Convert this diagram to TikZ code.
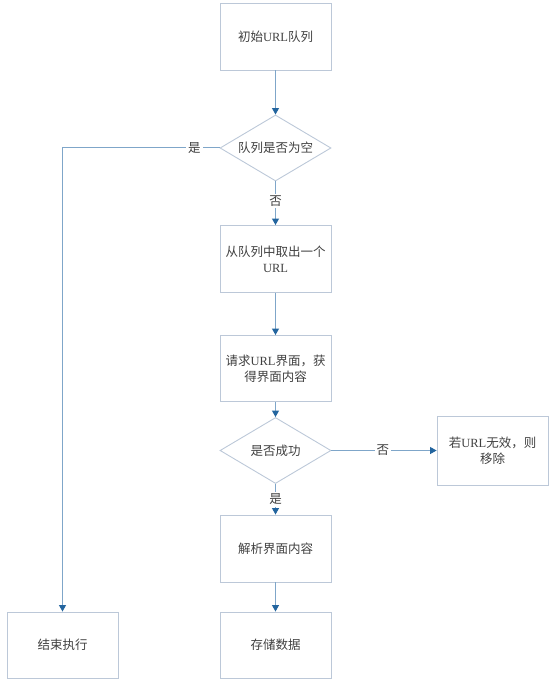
\documentclass[tikz,border=0pt]{standalone}
\usepackage{fontspec}
\setmainfont{Liberation Serif}
\newfontfamily\cjk{Noto Sans CJK SC}
\usetikzlibrary{shapes.geometric,arrows.meta}
\definecolor{boxc}{HTML}{BCC8D8}
\definecolor{linec}{HTML}{7FA6C9}
\definecolor{tipc}{HTML}{23659F}
\definecolor{txtc}{HTML}{404040}
\tikzset{
  stepbox/.style={draw=boxc, line width=0.9pt, minimum width=111pt, minimum height=67pt, inner sep=2pt, align=center, text=txtc, font=\fontsize{12.5}{16}\selectfont},
  decide/.style={diamond, shape aspect=1.68, draw=boxc, line width=0.9pt, minimum width=111pt, minimum height=66pt, inner sep=0pt, text=txtc, font=\fontsize{12.5}{16}\selectfont},
  conn/.style={draw=linec, line width=1pt, -{Triangle[width=7pt,length=6.5pt,color=tipc]}},
  lab/.style={fill=white, inner sep=2pt, text=txtc, font=\fontsize{12.5}{16}\selectfont\cjk}
}
\begin{document}
\begin{tikzpicture}[x=1pt,y=-1pt]
\useasboundingbox (0,0) rectangle (552,684);
\node[stepbox] (init) at (275.5,36.5) {{\cjk 初始}URL{\cjk 队列}};
\node[decide] (empty) at (275.5,148) {\cjk 队列是否为空};
\node[stepbox] (take) at (275.5,259) {{\cjk 从队列中取出一个}\\URL};
\node[stepbox, minimum height=66pt] (req) at (275.5,368.5) {{\cjk 请求}URL{\cjk 界面，获}\\{\cjk 得界面内容}};
\node[decide] (ok) at (275.5,450.5) {\cjk 是否成功};
\node[stepbox, minimum height=69pt] (rm) at (492.5,450.5) {{\cjk 若}URL{\cjk 无效，则}\\{\cjk 移除}};
\node[stepbox] (parse) at (275.5,548.5) {\cjk 解析界面内容};
\node[stepbox, minimum height=66pt] (stop) at (62.5,645) {\cjk 结束执行};
\node[stepbox, minimum height=66pt] (save) at (275.5,645) {\cjk 存储数据};
\draw[conn] (init) -- (empty);
\draw[conn] (empty.west) -- node[lab, pos=0.16] {是} (empty.west -| stop.north) -- (stop.north);
\draw[conn] (empty) -- node[lab, pos=0.45] {否} (take);
\draw[conn] (take) -- (req);
\draw[conn] (req) -- (ok);
\draw[conn] (ok) -- node[lab, pos=0.49] {否} (rm);
\draw[conn] (ok) -- node[lab, pos=0.5] {是} (parse);
\draw[conn] (parse) -- (save);
\end{tikzpicture}
\end{document}
